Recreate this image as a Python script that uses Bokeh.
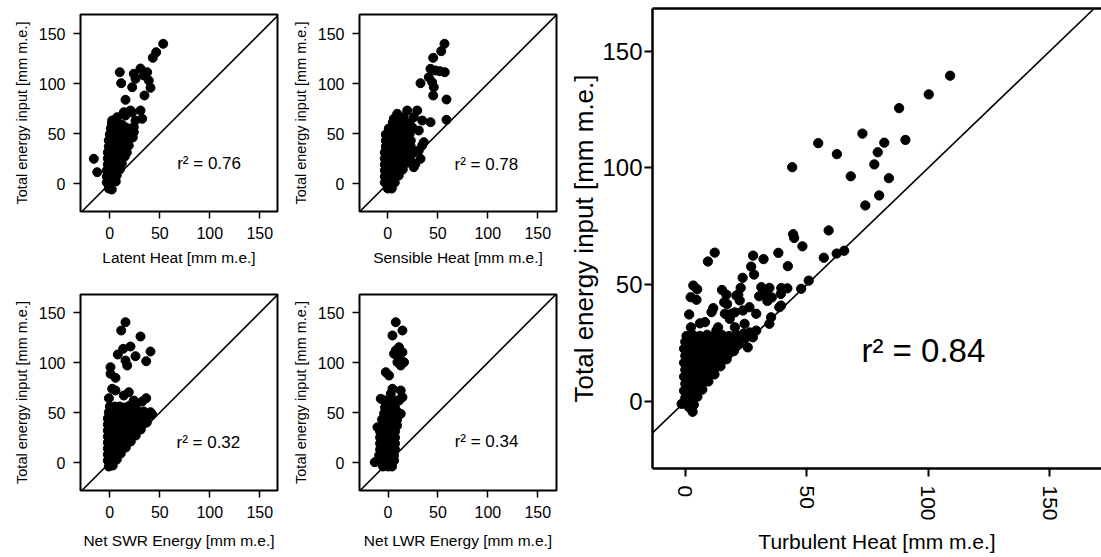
from bokeh.plotting import figure
from bokeh.layouts import row, column
from bokeh.models import Slope, Label, LinearAxis, FixedTicker
from bokeh.embed import file_html
from bokeh.resources import INLINE

FONT = "Liberation Sans"
TICKS = [0, 50, 100, 150]
Y_LABEL = "Total energy input [mm m.e.]"
X_LABELS = ["Latent Heat [mm m.e.]", "Sensible Heat [mm m.e.]",
            "Net SWR Energy [mm m.e.]", "Net LWR Energy [mm m.e.]",
            "Turbulent Heat [mm m.e.]"]
R2 = ["0.76", "0.78", "0.32", "0.34", "0.84"]

# (x, y) pairs
latent_pts = [
    (53.4, 139.7), (46.4, 131.3), (43.0, 125.7), (30.7, 115.0), (24.0, 109.7), (37.4, 111.3),
    (39.0, 103.0), (25.7, 104.7), (22.4, 96.3), (40.7, 95.7), (34.7, 88.0), (34.0, 108.0),
    (10.0, 111.3), (11.4, 100.3), (15.7, 83.7),
    (3.4, 61.3), (15.7, 68.0), (22.4, 71.3), (30.7, 73.0), (32.4, 64.7), (24.0, 51.3),
    (-16.0, 24.7), (-12.6, 11.3), (2.4, 63.0), (7.4, 66.3), (14.0, 71.3), (20.7, 73.0),
    (25.7, 63.0), (24.0, 56.3),
    (-1, -5), (2, -6), (-3, 1), (2, 1), (6, 2), (-3, 7), (2, 7), (7, 8),
    (-3, 13), (2, 13), (7, 13), (10, 14), (-2, 19), (3, 19), (8, 19), (12, 20),
    (-2, 25), (3, 25), (8, 25), (13, 26), (15, 27), (-2, 31), (3, 31), (8, 31), (13, 32), (17, 31),
    (-1, 37), (4, 37), (9, 37), (14, 38), (19, 38), (-1, 43), (4, 43), (9, 43), (14, 44), (19, 44), (23, 46),
    (0, 49), (5, 49), (10, 49), (15, 50), (20, 51), (1, 55), (6, 55), (11, 55), (16, 56), (21, 55),
    (2, 60), (7, 61), (12, 59),
]

sensible_pts = [
    (56.7, 139.7), (53.4, 132.3), (45.4, 125.7), (42.7, 114.7), (47.7, 113.0), (52.0, 112.3),
    (57.0, 111.3), (32.7, 100.3), (41.0, 106.3), (44.4, 101.3), (46.0, 96.3), (45.4, 88.0),
    (58.7, 84.0), (58.7, 63.7), (42.7, 61.3),
    (19.4, 73.0), (29.4, 73.0), (6.0, 64.7), (26.0, 66.3), (34.4, 63.0), (24.4, 56.3), (31.0, 53.0),
    (9.4, 69.7), (16.0, 66.3), (13.0, 60.0), (20.0, 60.0),
    (36.0, 41.3), (34.4, 38.0), (32.7, 24.7), (27.7, 19.7), (31.0, 33.0), (26.0, 16.3),
    (0, -5), (4, -5), (-3, 1), (2, 1), (7, 1), (-3, 7), (2, 7), (7, 7), (11, 8),
    (-3, 13), (2, 13), (7, 13), (12, 13), (15, 14), (-3, 19), (2, 19), (7, 19), (12, 19), (17, 20), (21, 21),
    (-3, 25), (2, 25), (7, 25), (12, 25), (17, 26), (22, 25),
    (-3, 31), (2, 31), (7, 31), (12, 31), (17, 32), (22, 31), (26, 32),
    (-2, 37), (3, 37), (8, 37), (13, 37), (18, 38), (23, 37), (-2, 43), (3, 43), (8, 43), (13, 43), (18, 44), (23, 43),
    (-2, 49), (3, 49), (8, 49), (13, 49), (18, 50), (22, 50), (1, 55), (6, 55), (11, 55), (16, 56), (21, 56),
    (5, 61), (10, 61), (16, 60), (22, 60),
]

swr_pts = [
    (15.7, 140.3), (11.4, 132.0), (30.7, 126.0), (20.7, 116.0), (13.4, 113.7), (8.0, 108.0),
    (40.7, 111.0), (25.7, 106.3), (15.7, 102.0), (17.4, 97.0), (36.4, 101.3), (0.7, 95.3),
    (0.7, 88.7), (5.7, 84.7), (2.4, 73.7), (5.7, 72.0), (19.0, 70.3), (14.0, 67.0), (36.4, 64.3),
    (32.4, 61.0), (-0.9, 64.3), (24.0, 62.0), (40.7, 50.3), (42.4, 48.0), (39.0, 47.0),
    (-1, -4), (3, -3), (-2, 2), (3, 2), (7, 3), (-2, 8), (3, 8), (8, 8), (11, 9),
    (-2, 14), (3, 14), (8, 14), (13, 14), (16, 15), (-2, 20), (3, 20), (8, 20), (13, 20), (18, 20), (21, 21),
    (-2, 26), (3, 26), (8, 26), (13, 26), (18, 26), (23, 26), (26, 27),
    (-2, 32), (3, 32), (8, 32), (13, 32), (18, 32), (23, 32), (28, 33), (31, 33),
    (-2, 38), (3, 38), (8, 38), (13, 38), (18, 38), (23, 38), (28, 38), (34, 39), (37, 40),
    (-2, 44), (3, 44), (8, 44), (13, 44), (18, 44), (23, 44), (28, 44), (33, 45),
    (-1, 50), (4, 50), (9, 50), (14, 50), (19, 50), (24, 51), (29, 50), (34, 51),
    (0, 56), (5, 56), (10, 56), (15, 55), (20, 57), (26, 55),
]

lwr_pts = [
    (7.7, 140.3), (14.4, 132.0), (4.4, 127.0), (11.0, 115.3), (7.7, 112.0), (14.4, 110.3),
    (6.0, 108.7), (11.0, 107.0), (16.0, 100.3), (9.4, 100.3), (12.7, 97.0), (-2.3, 90.3),
    (1.0, 87.0), (4.4, 73.7), (12.7, 72.0), (2.7, 68.7), (-4.0, 62.0), (9.4, 62.0), (6.0, 55.3),
    (-13.3, 0.3), (-10.6, 35.3), (-7.3, 63.7), (14.4, 65.3), (12.7, 48.7),
    (-5, -4), (0, -4), (4, -4), (-9, 1), (-4, 1), (1, 1), (6, 2), (-9, 7), (-4, 7), (1, 7), (6, 7),
    (-8, 13), (-3, 13), (2, 13), (7, 13), (-8, 19), (-3, 19), (2, 19), (7, 19),
    (-8, 25), (-3, 25), (2, 25), (7, 25), (-8, 31), (-3, 31), (2, 31), (7, 31),
    (-6, 37), (-1, 37), (4, 37), (9, 37), (-6, 43), (-1, 43), (4, 43), (9, 43),
    (-4, 49), (1, 49), (6, 49), (10, 50), (-3, 55), (2, 55), (7, 55),
    (-4, 62), (1, 61), (6, 61), (11, 62),
]

turb_pts = [
    (109.0, 139.5), (100.2, 131.5), (88.0, 125.6), (72.9, 114.7), (90.6, 112.0), (81.9, 110.8),
    (79.2, 106.7), (77.8, 101.5), (83.8, 95.6), (79.8, 88.2), (74.1, 83.9), (68.1, 96.4),
    (62.4, 105.9), (54.7, 110.6), (44.0, 100.3),
    (59.0, 73.2), (44.4, 71.6), (44.8, 70.0), (48.2, 66.4), (65.4, 64.5), (62.3, 63.3), (57.0, 61.5),
    (38.3, 63.6), (27.9, 62.4), (32.2, 60.9), (12.1, 63.7), (9.3, 59.9), (42.2, 57.9), (27.1, 57.7),
    (28.3, 54.3), (23.6, 52.9),
    (50.8, 51.7), (47.7, 48.2), (3.3, 49.6), (4.9, 48.0), (2.2, 44.6), (15.1, 47.7), (16.9, 45.7),
    (22.8, 48.6), (21.8, 45.7), (31.3, 48.9), (34.6, 48.6), (30.4, 45.0), (33.0, 45.5), (35.6, 44.5),
    (39.5, 48.5), (42.0, 48.4), (39.3, 46.0),
    (4.6, 43.5), (1.6, 37.2), (2.3, 31.7), (6.0, 33.4), (17.2, 41.7), (21.0, 45.3), (22.4, 43.2),
    (18.9, 37.5), (23.7, 38.9), (26.4, 40.3), (29.2, 37.5), (33.8, 43.0), (39.4, 41.0), (38.7, 40.3),
    (35.3, 36.0), (34.6, 33.2), (29.2, 30.3), (27.8, 27.4), (25.7, 23.1), (12.8, 30.3),
    (16.0, 42.4), (11.5, 39.9), (10.8, 38.2), (20.4, 38.1), (8.1, 33.9), (16.3, 37.5), (18.3, 35.3),
    (13.5, 31.7), (20.4, 31.7), (24.4, 33.2),
    (3.0, -4.5), (1.5, -2.5), (-1.5, -1.1), (0.5, -1.0), (3.5, -1.5),
    (0.0, 1.5), (2.5, 1.0), (5.0, 2.0), (-0.5, 4.5), (2.0, 4.0), (4.5, 4.5), (7.0, 5.0),
    (0.0, 7.5), (2.5, 7.0), (5.0, 7.5), (7.5, 8.0), (9.5, 8.5),
    (-0.5, 10.5), (2.0, 10.0), (4.5, 10.5), (7.0, 11.0), (9.5, 11.0), (12.0, 11.5),
    (0.0, 13.5), (2.5, 13.0), (5.0, 13.5), (7.5, 14.0), (10.0, 14.0), (12.5, 14.5), (14.5, 15.0),
    (-0.5, 16.5), (2.0, 16.0), (4.5, 16.5), (7.0, 17.0), (9.5, 17.0), (12.0, 17.5), (14.5, 17.5), (17.0, 18.0),
    (0.0, 19.5), (2.5, 19.0), (5.0, 19.5), (7.5, 20.0), (10.0, 20.0), (12.5, 20.5), (15.0, 20.5),
    (17.5, 21.0), (20.0, 21.5),
    (-0.5, 22.5), (2.0, 22.0), (4.5, 22.5), (7.0, 23.0), (9.5, 23.0), (12.0, 23.5), (14.5, 23.5),
    (17.0, 24.0), (19.5, 24.0), (22.0, 24.5),
    (0.0, 25.5), (2.5, 25.0), (5.0, 25.5), (7.5, 26.0), (10.0, 26.0), (12.5, 26.5), (15.0, 26.0),
    (17.5, 26.5), (20.0, 26.5), (22.5, 27.0), (24.5, 27.0),
    (0.5, 28.0), (3.0, 28.5), (6.0, 28.0), (9.0, 28.5), (12.0, 28.0), (15.0, 28.5), (18.0, 28.0),
    (21.0, 28.5), (24.0, 29.0), (26.5, 29.5),
]


def style_axes(p, tick_px, tick_out, lab_px, ylab_px):
    for ax in p.xaxis + p.yaxis:
        ax.ticker = FixedTicker(ticks=TICKS)
        ax.minor_tick_line_color = None
        ax.major_tick_in = 0
        ax.major_tick_out = tick_out
        ax.major_tick_line_color = "black"
        ax.major_tick_line_width = 1.5
        ax.major_label_text_font = FONT
        ax.major_label_text_color = "black"
        ax.axis_label_text_font = FONT
        ax.axis_label_text_font_style = "normal"
        ax.axis_label_text_color = "black"
    for ax in p.xaxis:
        ax.major_label_text_font_size = tick_px
        ax.axis_label_text_font_size = lab_px
    for ax in p.yaxis:
        ax.major_label_text_font_size = tick_px
        ax.axis_label_text_font_size = ylab_px
    p.xgrid.visible = False
    p.ygrid.visible = False


def small_panel(pts, xlabel, r2, xr, yr, width, left, height, top, bottom, xlab_standoff, lx, ly):
    p = figure(width=width, height=height, x_range=xr, y_range=yr,
               output_backend="svg", toolbar_location=None,
               min_border_left=left, min_border_right=10,
               min_border_top=top, min_border_bottom=bottom,
               background_fill_color="white", border_fill_color="white")
    p.scatter([q[0] for q in pts], [q[1] for q in pts], size=9,
              fill_color="black", line_color="black")
    p.add_layout(Slope(gradient=1, y_intercept=0, line_color="black", line_width=1.6))
    p.outline_line_color = "black"
    p.outline_line_width = 2
    p.outline_line_alpha = 1
    style_axes(p, "16px", 7, "15.5px", "14.5px")
    for ax in p.xaxis + p.yaxis:
        ax.axis_line_color = None
        ax.major_label_standoff = 8
    p.xaxis.axis_label = xlabel
    p.yaxis.axis_label = Y_LABEL
    p.xaxis.axis_label_standoff = xlab_standoff
    p.yaxis.axis_label_standoff = 6
    p.yaxis.major_label_orientation = "horizontal"
    p.add_layout(Label(x=lx, y=ly, text="r\u00b2 = " + r2, text_font=FONT,
                       text_font_size="17px", text_color="black",
                       text_baseline="middle", text_align="left"))
    return p


p1 = small_panel(latent_pts, X_LABELS[0], R2[0], (-29.3, 167.7), (-28, 169),
                 287, 80, 288, 14, 77, 7, 67.4, 20.5)
p2 = small_panel(sensible_pts, X_LABELS[1], R2[1], (-28.3, 168.7), (-28, 169),
                 279, 72, 288, 14, 77, 7, 66.7, 18.8)
p3 = small_panel(swr_pts, X_LABELS[2], R2[2], (-29.3, 167.7), (-28, 168),
                 287, 80, 269, 6, 67, 11, 66.7, 20.5)
p4 = small_panel(lwr_pts, X_LABELS[3], R2[3], (-28.6, 168.7), (-28, 168),
                 279, 72, 269, 6, 67, 11, 66.7, 20.8)

# big panel
p5 = figure(width=535, height=557, x_range=(-13.5, 171.3), y_range=(-28.8, 168.3),
            output_backend="svg", toolbar_location=None,
            min_border_left=83, min_border_right=0, min_border_top=8, min_border_bottom=89,
            background_fill_color="white", border_fill_color="white")
p5.scatter([q[0] for q in turb_pts], [q[1] for q in turb_pts], size=9.3,
           fill_color="black", line_color="black")
p5.add_layout(Slope(gradient=1, y_intercept=0, line_color="black", line_width=1.6))
p5.outline_line_color = None
style_axes(p5, "24px", 8, "21px", "26px")
for ax in p5.xaxis + p5.yaxis:
    ax.axis_line_color = "black"
    ax.axis_line_width = 2.5
    ax.major_tick_line_width = 2
p5.xaxis.major_label_text_font_size = "21px"
p5.xaxis.major_label_orientation = "vertical"
p5.xaxis.major_label_standoff = 9
p5.yaxis.major_label_standoff = 2
p5.yaxis.major_label_orientation = "horizontal"
p5.xaxis.axis_label = X_LABELS[4]
p5.yaxis.axis_label = Y_LABEL
p5.xaxis.axis_label_standoff = 6
p5.yaxis.axis_label_standoff = 0
top_axis = LinearAxis(ticker=FixedTicker(ticks=[]), major_tick_out=0, major_tick_in=0,
                      minor_tick_line_color=None, major_label_text_font_size="0px",
                      axis_line_color="black", axis_line_width=2.5)
p5.add_layout(top_axis, "above")
p5.add_layout(Label(x=72.5, y=21.7, text="r\u00b2 = " + R2[4], text_font=FONT,
                    text_font_size="33px", text_color="black",
                    text_baseline="middle", text_align="left"))

layout = row(column(row(p1, p2), row(p3, p4)), p5)

open("out.html", "w").write(file_html(layout, INLINE))
